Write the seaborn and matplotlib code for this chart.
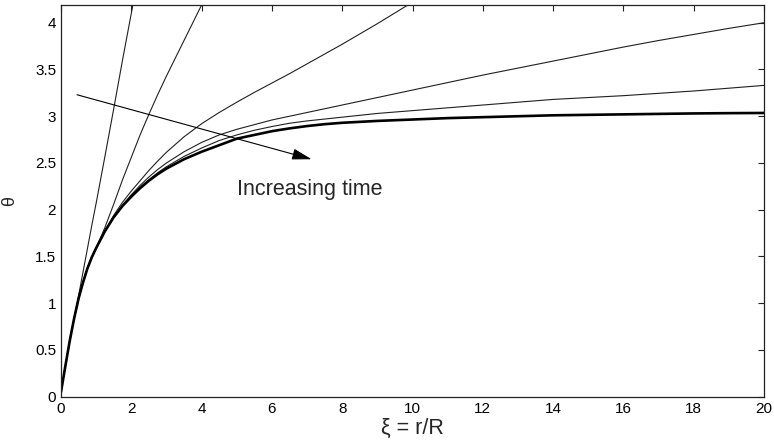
import matplotlib
matplotlib.use("Agg")
import matplotlib.pyplot as plt
import seaborn as sns

# xi grid shared by all profiles; each profile is read off the figure
# and stops once it has left the top of the plot
xi = [0, 0.125, 0.25, 0.375, 0.5, 0.625, 0.75, 0.875, 1, 1.25, 1.5, 1.75, 2,
      2.25, 2.5, 2.75, 3, 3.5, 4, 4.5, 5, 5.5, 6, 6.5, 7, 7.5, 8,
      9, 10, 11, 12, 13, 14, 15, 16, 17, 18, 19, 20]

theta_t1 = [0.05, 0.33, 0.60, 0.84, 1.08, 1.33, 1.58, 1.83, 2.07, 2.57, 3.08, 3.60, 4.10,
            4.60]
theta_t2 = [0.05, 0.33, 0.60, 0.84, 1.05, 1.22, 1.37, 1.49, 1.59, 1.81, 2.06, 2.32, 2.56,
            2.80, 3.02, 3.23, 3.43, 3.81, 4.19, 4.56]
theta_t3 = [0.05, 0.33, 0.60, 0.84, 1.05, 1.22, 1.37, 1.49, 1.59, 1.77, 1.94, 2.08, 2.20,
            2.31, 2.42, 2.52, 2.615, 2.78, 2.92, 3.04, 3.15, 3.255, 3.355, 3.455, 3.56, 3.665, 3.77,
            3.99, 4.22]
theta_t4 = [0.05, 0.33, 0.60, 0.84, 1.05, 1.22, 1.37, 1.49, 1.59, 1.77, 1.92, 2.05, 2.16,
            2.26, 2.35, 2.43, 2.50, 2.62, 2.72, 2.80, 2.86, 2.91, 2.96, 3.00, 3.04, 3.08, 3.12,
            3.20, 3.28, 3.36, 3.44, 3.515, 3.59, 3.665, 3.74, 3.81, 3.875, 3.94, 4.00]
theta_t5 = [0.05, 0.33, 0.60, 0.84, 1.05, 1.22, 1.37, 1.49, 1.59, 1.77, 1.92, 2.04, 2.14,
            2.24, 2.32, 2.395, 2.46, 2.57, 2.66, 2.74, 2.80, 2.85, 2.89, 2.925, 2.95, 2.97, 2.99,
            3.03, 3.06, 3.09, 3.12, 3.15, 3.18, 3.20, 3.22, 3.245, 3.27, 3.30, 3.33]
theta_steady = [0.05, 0.33, 0.60, 0.84, 1.05, 1.22, 1.37, 1.49, 1.59, 1.77, 1.92, 2.04, 2.14,
                2.23, 2.31, 2.38, 2.44, 2.54, 2.62, 2.69, 2.76, 2.80, 2.84, 2.87, 2.895, 2.915, 2.93,
                2.95, 2.965, 2.98, 2.99, 3.00, 3.01, 3.015, 3.02, 3.025, 3.03, 3.033, 3.035]

xticks = list(range(0, 21, 2))
yticks = [0, 0.5, 1, 1.5, 2, 2.5, 3, 3.5, 4]
ytick_labels = ["0", "0.5", "1", "1.5", "2", "2.5", "3", "3.5", "4"]


def main():
    sns.set_style("white")
    plt.rcParams["font.family"] = ["Liberation Sans", "DejaVu Sans"]

    fig = plt.figure(figsize=(7.74, 4.45), dpi=100)
    ax = fig.add_axes([0.0788, 0.1085, 0.9083, 0.8803])

    # transient profiles, thin lines
    for theta in [theta_t1, theta_t2, theta_t3, theta_t4, theta_t5]:
        sns.lineplot(x=xi[:len(theta)], y=theta, color="#202020", lw=0.8, ax=ax)
    # steady profile, heavy line
    sns.lineplot(x=xi, y=theta_steady, color="black", lw=1.9, ax=ax)

    ax.set_xlim(0, 20)
    ax.set_ylim(0, 4.19)
    ax.set_xticks(xticks)
    ax.set_yticks(yticks)
    ax.set_yticklabels(ytick_labels)
    ax.tick_params(direction="in", length=4.5, width=0.8, labelsize=11,
                   top=True, right=True, colors="#222222", labelcolor="black")
    for s in ax.spines.values():
        s.set_visible(True)
        s.set_color("#222222")
        s.set_linewidth(0.9)

    ax.annotate("", xy=(7.13, 2.54), xytext=(0.455, 3.23),
                arrowprops=dict(arrowstyle="-|>,head_length=0.6,head_width=0.17",
                                mutation_scale=20, lw=0.8, color="black",
                                shrinkA=0, shrinkB=0))
    ax.text(5.0, 2.16, "Increasing time", fontsize=15.5, ha="left", va="baseline")

    ax.set_xlabel("ξ = r/R", fontsize=15.5, labelpad=2)
    ax.set_ylabel("θ", fontsize=13, labelpad=12)

    fig.savefig("out.png", dpi=100)
    plt.close(fig)


if __name__ == "__main__":
    main()
